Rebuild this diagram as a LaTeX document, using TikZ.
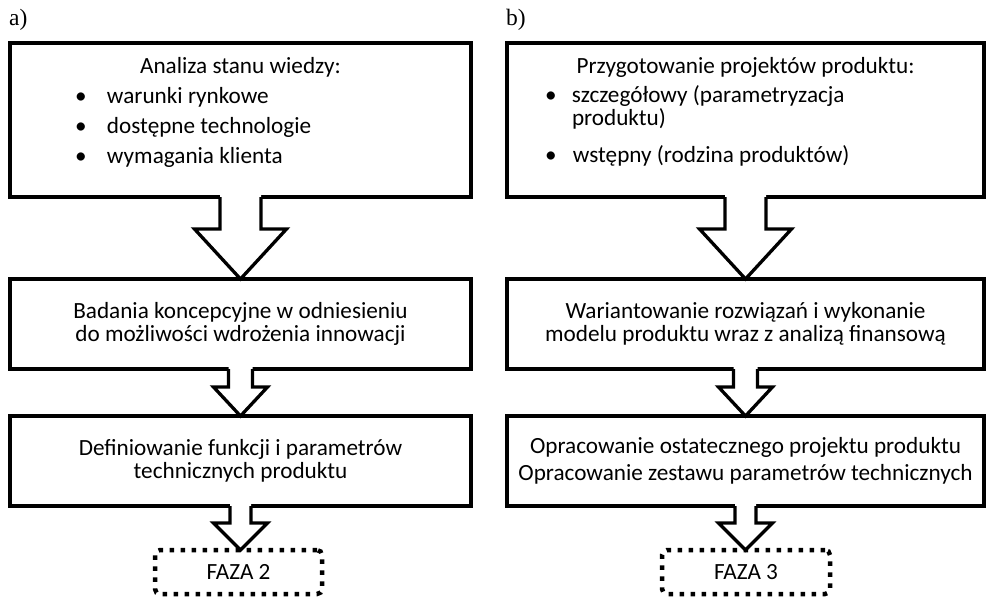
\documentclass[tikz,border=0pt]{standalone}
\usepackage{fontspec}
\newfontfamily\boxfont{Carlito}
\newfontfamily\panelfont{Liberation Serif}
\usetikzlibrary{calc}

% hollow block arrow from the bottom of one box to the top of the next
% #1 source node, #2 target node, #3 stem half-width, #4 head half-width, #5 head length
\newcommand\hollowdown[5]{%
  \fill[white] ($(#1.south)+(-#3,-3)$) -- ($(#1.south |- #2.north)+(-#3,-#5)$)
    -- ($(#1.south |- #2.north)+(-#4,-#5)$) -- (#1.south |- #2.north)
    -- ($(#1.south |- #2.north)+(#4,-#5)$) -- ($(#1.south |- #2.north)+(#3,-#5)$)
    -- ($(#1.south)+(#3,-3)$) -- cycle;
  \draw[arrowline] ($(#1.south)+(-#3,0)$) -- ($(#1.south |- #2.north)+(-#3,-#5)$)
    -- ($(#1.south |- #2.north)+(-#4,-#5)$) -- (#1.south |- #2.north)
    -- ($(#1.south |- #2.north)+(#4,-#5)$) -- ($(#1.south |- #2.north)+(#3,-#5)$)
    -- ($(#1.south)+(#3,0)$);
}

\begin{document}
\begin{tikzpicture}[x=1pt,y=-1pt,
  boxtext/.style={font=\boxfont\fontsize{23.2}{23.3}\selectfont},
  box/.style={draw, line width=3.3pt, inner sep=0pt, outer sep=0pt, fill=white,
    boxtext, align=center, execute at begin node={\rule{0pt}{22pt}}},
  phase/.style={draw, line width=4.5pt, dash pattern=on 4.5pt off 6.5pt,
    rounded corners=5pt, inner sep=0pt, outer sep=0pt, boxtext},
  listtext/.style={inner sep=0pt, outer sep=0pt, align=flush left, boxtext},
  panel/.style={inner sep=0pt, font=\panelfont\fontsize{23.5}{26}\selectfont, anchor=base west},
  arrowline/.style={line width=3.3pt, line join=miter}]
\useasboundingbox (0,0) rectangle (987,598);

% panel letters
\node[panel] (pa) at (9,25) {a)};
\node[panel] (pb) at (506,25) {b)};

% column a
\node[box, minimum width=461pt, minimum height=154pt] (a1) at (240.5,120) {};
\node[listtext, text width=461pt, anchor=north west] (a1t) at ($(a1.north west)+(0,14)$)
  {\makebox[461pt]{Analiza stanu wiedzy:}\\[6.7pt]
   \hspace*{65pt}\makebox[32pt][l]{•}warunki rynkowe\\[6.7pt]
   \hspace*{65pt}\makebox[32pt][l]{•}dostępne technologie\\[6.7pt]
   \hspace*{65pt}\makebox[32pt][l]{•}wymagania klienta};
\node[box, minimum width=461pt, minimum height=90pt] (a2) at (240.5,324)
  {Badania koncepcyjne w odniesieniu\\do możliwości wdrożenia innowacji};
\node[box, minimum width=461pt, minimum height=90pt] (a3) at (240.5,461)
  {Definiowanie funkcji i parametrów\\technicznych produktu};
\node[phase, minimum width=167pt, minimum height=44pt] (af) at (238.5,572) {FAZA 2};

% column b
\node[box, minimum width=477pt, minimum height=154pt] (b1) at (745.5,120) {};
\node[listtext, text width=477pt, anchor=north west] (b1t) at ($(b1.north west)+(0,14)$)
  {\makebox[477pt]{Przygotowanie projektów produktu:}\\[5.7pt]
   \hspace*{38pt}\makebox[27pt][l]{•}szczegółowy (parametryzacja\\
   \hspace*{65pt}produktu)\\[13.7pt]
   \hspace*{38pt}\makebox[28pt][l]{•}wstępny (rodzina produktów)};
\node[box, minimum width=477pt, minimum height=90pt] (b2) at (745.5,324)
  {Wariantowanie rozwiązań i wykonanie\\modelu produktu wraz z analizą finansową};
\node[box, minimum width=477pt, minimum height=90pt] (b3) at (745.5,461)
  {Opracowanie ostatecznego projektu produktu\\[3.7pt]Opracowanie zestawu parametrów technicznych};
\node[phase, minimum width=168pt, minimum height=44pt] (bf) at (746,572) {FAZA 3};

% connecting arrows
\hollowdown{a1}{a2}{20.5}{46}{50}
\hollowdown{a2}{a3}{12}{27}{29}
\hollowdown{a3}{af}{10.5}{27}{27}
\hollowdown{b1}{b2}{20.5}{46}{50}
\hollowdown{b2}{b3}{12}{27}{29}
\hollowdown{b3}{bf}{10.5}{27}{27}
\end{tikzpicture}
\end{document}
